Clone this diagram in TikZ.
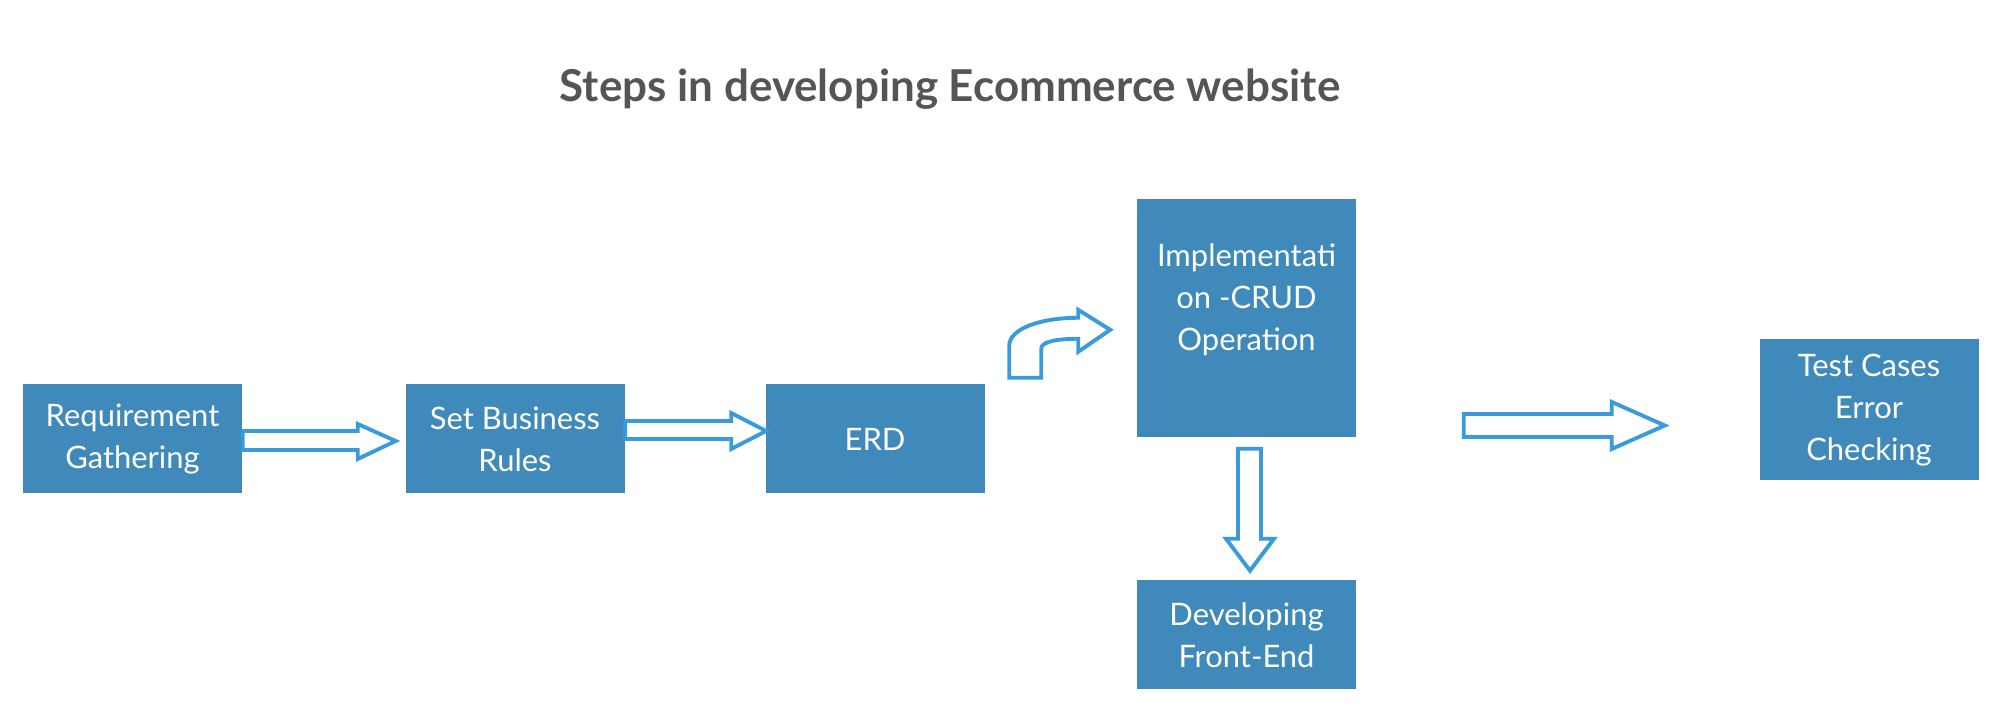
\documentclass[tikz,border=0pt]{standalone}
\usepackage{fontspec}
\setmainfont{Lato}
\usetikzlibrary{calc}
\definecolor{BOX}{HTML}{3F8ABB}
\definecolor{LINK}{HTML}{3A9BDC}
\definecolor{HEAD}{HTML}{555555}

\begin{document}
\begin{tikzpicture}[
  x=0.1mm, y=-0.1mm,
  stage/.style={fill=BOX, text=white, align=center, inner sep=0pt,
    minimum width=21.9mm, minimum height=10.9mm,
    font=\fontsize{8.8}{12}\selectfont},
  hollow/.style={draw=LINK, line width=1.1pt, fill=white, line join=miter},
  head/.style={font=\fontsize{12.5}{15}\selectfont\bfseries, text=HEAD},
]
\useasboundingbox (0,0) rectangle (2000,710);

\node[head] (title) at (950,89) {Steps in developing Ecommerce website};

% stages (pixel grid, y grows downwards)
\node[stage] (req) at (132.5,439) {Requirement\\Gathering};
\node[stage] (rules) at (515,439) {Set Business\\Rules};
\node[stage] (erd) at (875,439) {ERD};
\node[stage, minimum height=23.8mm] (crud) at (1246.5,318)
  {Implementati\\on -CRUD\\Operation\\\mbox{}};
\node[stage] (front) at (1246.5,635) {Developing\\Front-End};
\node[stage, minimum height=14.1mm] (test) at (1869,410)
  {Test Cases\\Error\\Checking};

% hollow block arrows
\draw[hollow] ($(req.east)+(0,-8)$) -- ++(115,0) -- ++(0,-7) -- ++(38,17)
  -- ++(-38,18) -- ++(0,-9) -- ++(-115,0) -- cycle;
\draw[hollow] ($(rules.east)+(0,-18)$) -- ++(106,0) -- ++(0,-8) -- ++(35,18)
  -- ++(-35,18) -- ++(0,-10) -- ++(-106,0) -- cycle;

% bent arrow up into the implementation step
\coordinate (bend) at ($(erd.north east)+(24,-6)$);
\draw[hollow] (bend) -- ++(32,0) -- ++(0,-29)
  .. controls +(0,-8) and +(-18,0) .. ++(37,-10)
  -- ++(0,13) -- ++(32,-22) -- ++(-32,-20) -- ++(0,8)
  .. controls +(-38,0) and +(0,-17) .. ++(-69,28) -- cycle;

\draw[hollow] ($(crud.south)+(-8.5,11)$) -- ++(23,0) -- ++(0,90) -- ++(13,0)
  -- ++(-24,32) -- ++(-24,-32) -- ++(12,0) -- cycle;
\draw[hollow] ($(test.west)+(-295,4)$) -- ++(148,0) -- ++(0,-12)
  -- ++(53,23.5) -- ++(-53,23.5) -- ++(0,-12) -- ++(-148,0) -- cycle;

\end{tikzpicture}
\end{document}
